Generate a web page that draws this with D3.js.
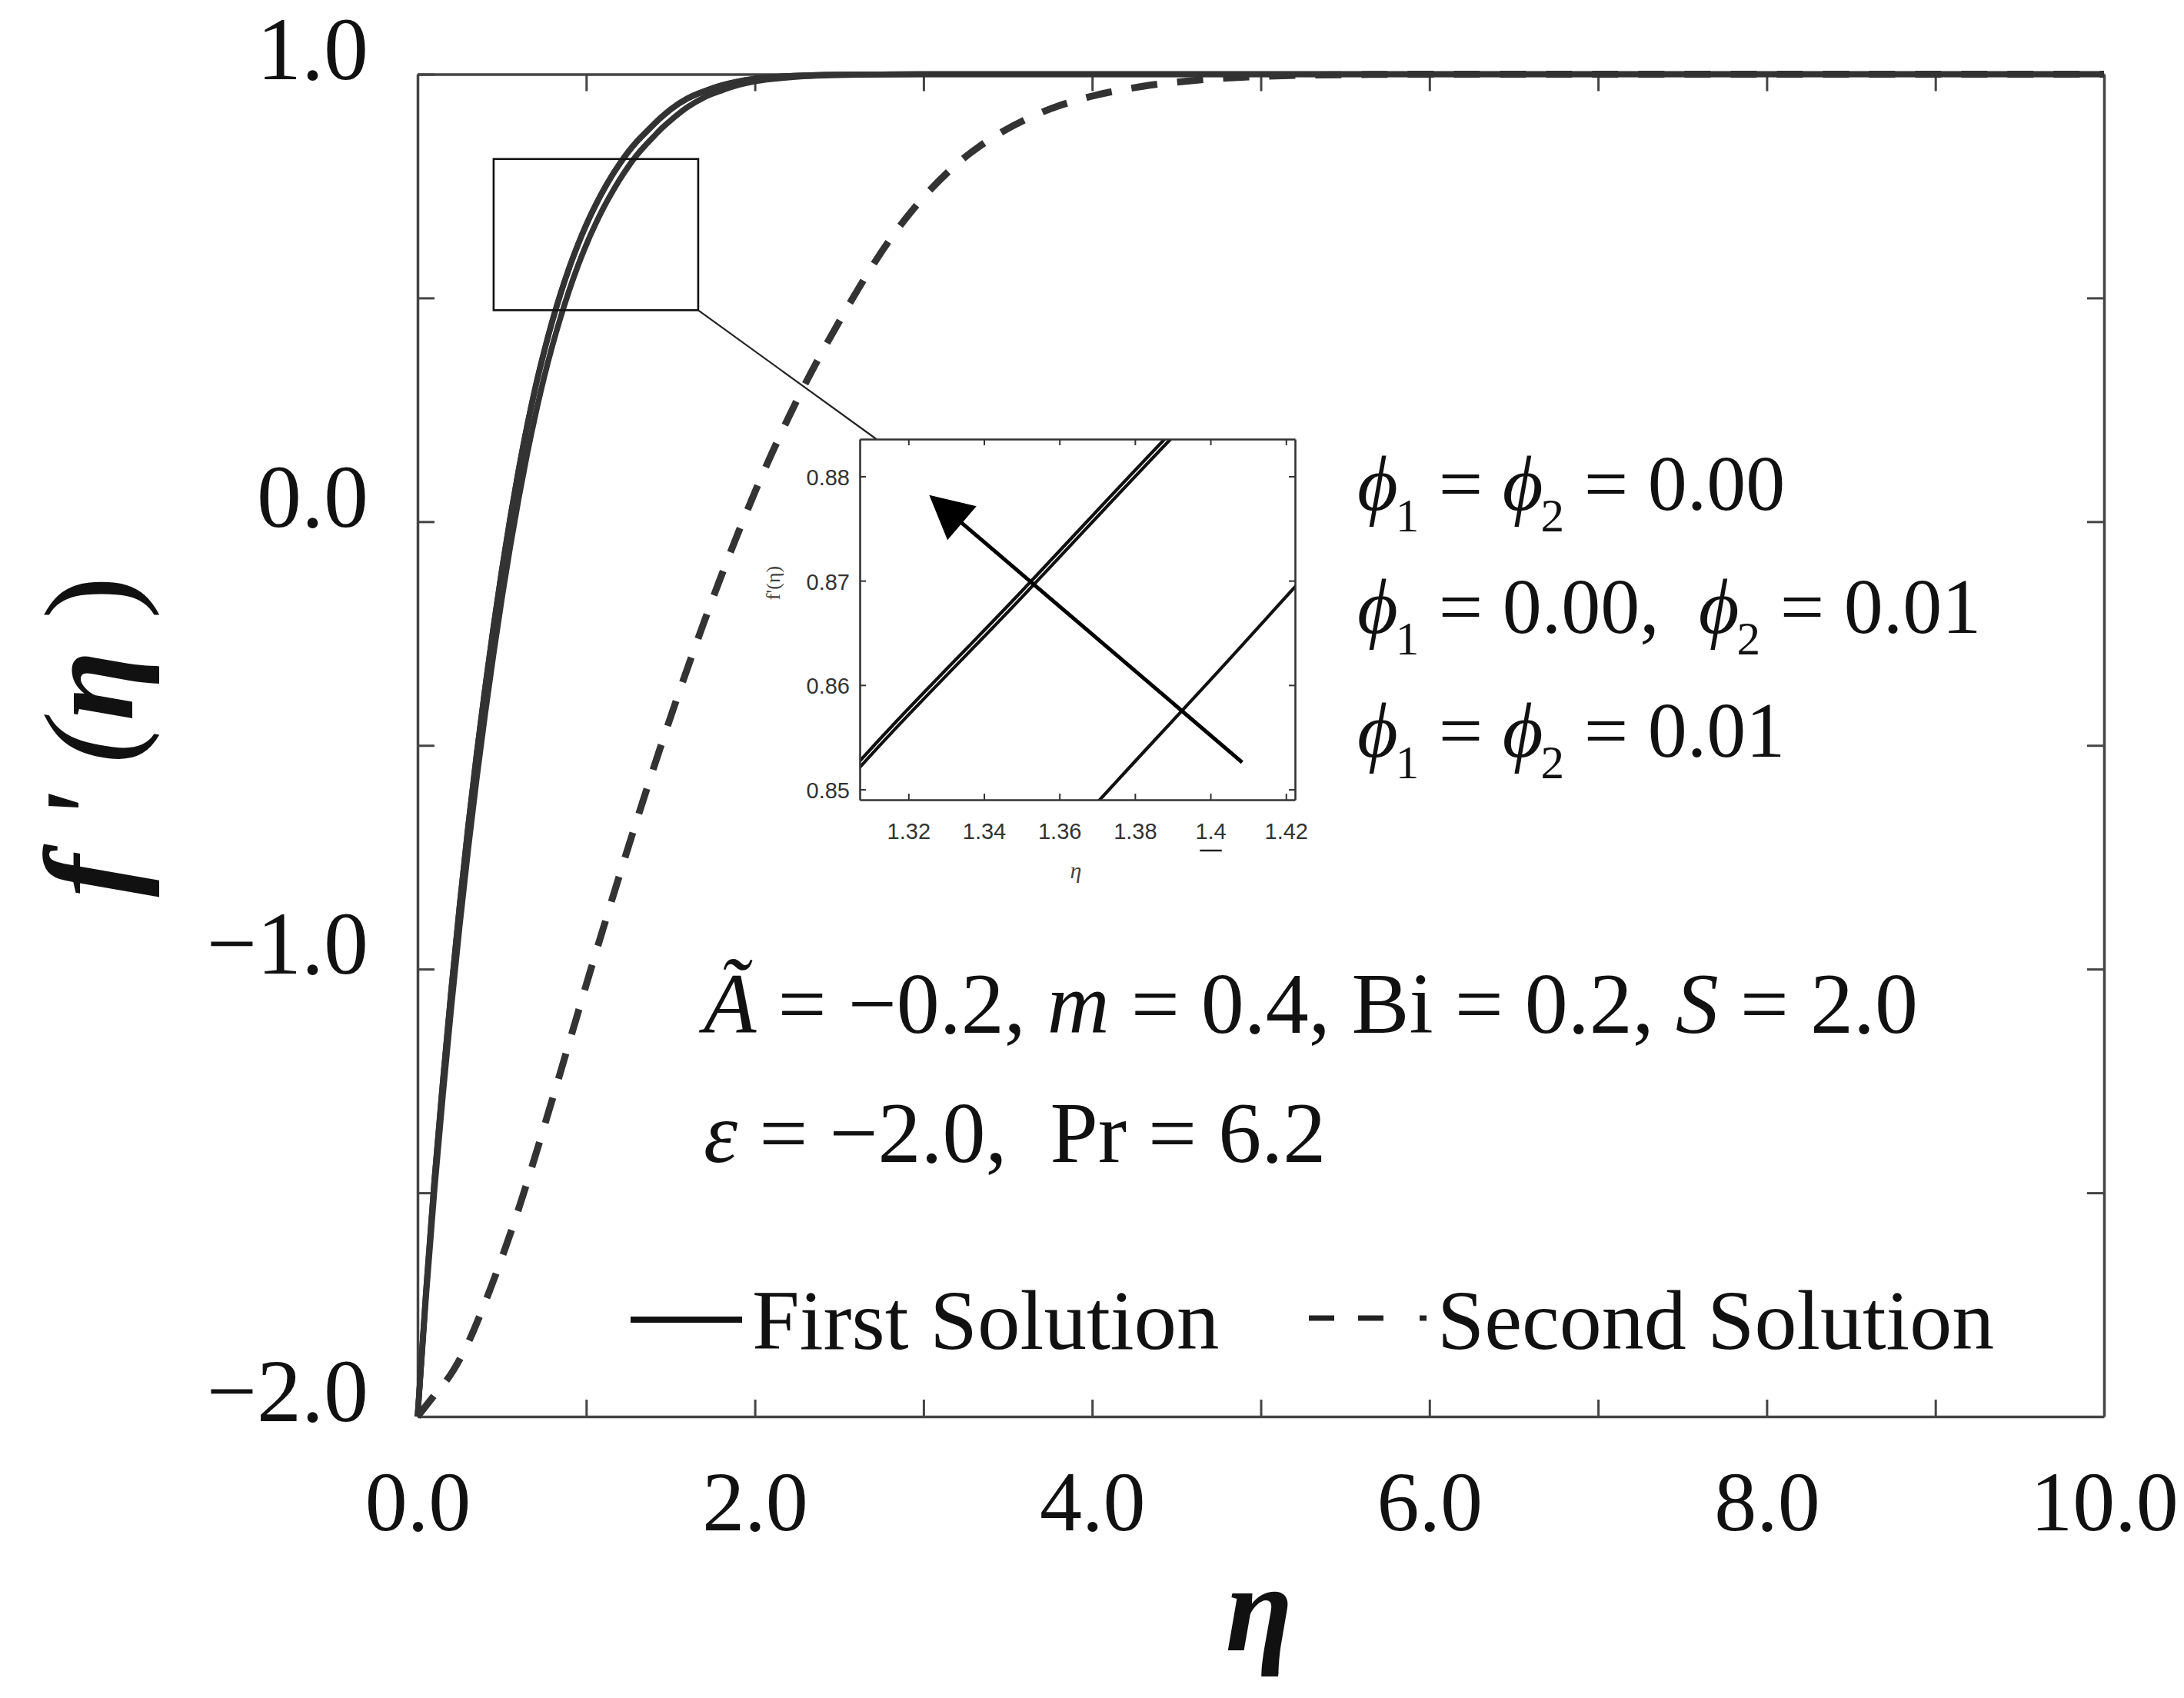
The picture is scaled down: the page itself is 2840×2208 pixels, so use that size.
<!DOCTYPE html>
<html><head><meta charset="utf-8">
<script src="https://cdn.jsdelivr.net/npm/d3@7"></script>
<style>
html,body{margin:0;padding:0;background:#fff;}
svg{display:block;}
text{white-space:pre;}
</style></head><body>
<svg id="chart" width="2840" height="2208"></svg>
<script>
// ---------- DATA ----------
const etaFirst = [0,0.05,0.10,0.15,0.20,0.25,0.30,0.35,0.40,0.45,0.50,0.55,0.60,0.65,0.70,0.75,0.80,0.85,0.90,0.95,1.00,1.05,1.10,1.15,1.20,1.25,1.30,1.35,1.40,1.45,1.50,1.60,1.70,1.80,1.90,2.00,2.20,2.50,3.00,4.00,6.00,8.00,10.0];
// phi1 = phi2 = 0.00
const fpPhi00 = [-2.000,-1.720,-1.470,-1.250,-1.045,-0.855,-0.680,-0.520,-0.3725,-0.235,-0.1075,0.010,0.1175,0.215,0.3025,0.380,0.450,0.5125,0.5685,0.6185,0.6635,0.7035,0.7395,0.772,0.801,0.827,0.8498,0.8690,0.8881,0.9056,0.9215,0.946,0.962,0.975,0.984,0.990,0.996,0.999,1.000,1.000,1.000,1.000,1.000];
// phi1 = 0.00, phi2 = 0.01
const fpPhi0001 = [-2.000,-1.721,-1.471,-1.251,-1.046,-0.856,-0.681,-0.521,-0.3733,-0.2357,-0.1082,0.0093,0.1168,0.2143,0.3018,0.3794,0.4494,0.5119,0.5679,0.6179,0.6629,0.7029,0.7389,0.7714,0.8004,0.8264,0.8492,0.8684,0.8875,0.9050,0.9209,0.9455,0.9616,0.9747,0.9838,0.9898,0.9959,0.9990,1.000,1.000,1.000,1.000,1.000];
// phi1 = phi2 = 0.01
const fpPhi0101 = [-2.000,-1.734,-1.495,-1.283,-1.086,-0.9025,-0.7325,-0.576,-0.4315,-0.297,-0.171,-0.0546,0.053,0.1516,0.241,0.322,0.394,0.459,0.518,0.571,0.6185,0.661,0.6995,0.734,0.7655,0.7938,0.8192,0.8407,0.8605,0.8800,0.8966,0.9262,0.9484,0.9633,0.9755,0.984,0.9927,0.9977,0.9998,1.000,1.000,1.000,1.000];
// second solution
const etaSecond = [0,0.10,0.20,0.30,0.40,0.50,0.60,0.70,0.80,0.90,1.00,1.10,1.20,1.30,1.40,1.50,1.60,1.70,1.80,1.90,2.00,2.10,2.20,2.30,2.40,2.50,2.60,2.80,3.00,3.20,3.40,3.60,3.80,4.00,4.30,4.60,5.00,5.50,6.00,7.00,8.00,10.0];
const fpSecond = [-2.000,-1.952,-1.904,-1.835,-1.745,-1.645,-1.535,-1.415,-1.290,-1.163,-1.035,-0.910,-0.787,-0.667,-0.550,-0.437,-0.328,-0.223,-0.122,-0.026,0.066,0.152,0.233,0.309,0.380,0.447,0.512,0.630,0.725,0.800,0.856,0.898,0.929,0.951,0.973,0.986,0.995,0.999,1.000,1.000,1.000,1.000];

const xTicks = [0,1,2,3,4,5,6,7,8,9,10];
const xLabelTicks = [0,2,4,6,8,10];
const yTicks = [-2,-1.5,-1,-0.5,0,0.5,1];
const yLabelTicks = [-2,-1,0,1];
const insetXTicks = [1.32,1.34,1.36,1.38,1.40,1.42];
const insetXLabels = ["1.32","1.34","1.36","1.38","1.4","1.42"];
const insetYTicks = [0.85,0.86,0.87,0.88];
const insetYLabels = ["0.85","0.86","0.87","0.88"];
const legendLabels = ["First Solution","Second Solution"];

// ---------- SETUP ----------
const svg = d3.select("#chart");
const SERIF = "'Liberation Serif','Times New Roman',serif";
const SANS = "'Liberation Sans',Arial,sans-serif";
const AX = "#444";
const LINE = "#333";

const L = 543, R = 2736, T = 96.5, B = 1842;
const x = d3.scaleLinear().domain([0,10]).range([L,R]);
const y = d3.scaleLinear().domain([-2,1]).range([B,T]);

svg.append("rect").attr("width",2840).attr("height",2208).attr("fill","#fff");

// ---------- AXES ----------
const fmt = d3.format(".1f");
const gB = svg.append("g").attr("transform",`translate(0,${B})`)
  .call(d3.axisBottom(x).tickValues(xTicks).tickSizeInner(-22).tickSizeOuter(0).tickPadding(70)
    .tickFormat(d => xLabelTicks.includes(d) ? fmt(d) : ""));
const gT = svg.append("g").attr("transform",`translate(0,${T})`)
  .call(d3.axisTop(x).tickValues(xTicks).tickSizeInner(-22).tickSizeOuter(0).tickFormat(""));
const gLft = svg.append("g").attr("transform",`translate(${L},0)`)
  .call(d3.axisLeft(y).tickValues(yTicks).tickSizeInner(-22).tickSizeOuter(0).tickPadding(64)
    .tickFormat(d => yLabelTicks.includes(d) ? fmt(d) : ""));
const gRt = svg.append("g").attr("transform",`translate(${R},0)`)
  .call(d3.axisRight(y).tickValues(yTicks).tickSizeInner(-22).tickSizeOuter(0).tickFormat(""));
[gB,gT,gLft,gRt].forEach(g=>{
  g.select(".domain").attr("stroke",AX).attr("stroke-width",3.5);
  g.selectAll(".tick line").attr("stroke",AX).attr("stroke-width",3);
  g.selectAll(".tick text").attr("font-family",SERIF).attr("font-size",110).attr("fill","#111");
});
gLft.selectAll(".tick text").attr("font-size",116).attr("dy","0.05em");

// ---------- CURVES ----------
const line = d3.line().x(d=>x(d[0])).y(d=>y(d[1])).curve(d3.curveMonotoneX);
const firstSeries = [fpPhi00, fpPhi0001, fpPhi0101].map(arr => etaFirst.map((e,i)=>[e,arr[i]]));
const secondSeries = etaSecond.map((e,i)=>[e,fpSecond[i]]);

svg.append("path").datum(secondSeries).attr("d",line).attr("fill","none")
  .attr("stroke",LINE).attr("stroke-width",9).attr("stroke-dasharray","34,26");
firstSeries.forEach(s=>{
  svg.append("path").datum(s).attr("d",line).attr("fill","none")
    .attr("stroke",LINE).attr("stroke-width",7.5);
});

// zoom box on main plot
const box = {x0:0.451, x1:1.664, y0:0.4726, y1:0.8105};
svg.append("rect").attr("x",x(box.x0)).attr("y",y(box.y1))
  .attr("width",x(box.x1)-x(box.x0)).attr("height",y(box.y0)-y(box.y1))
  .attr("fill","none").attr("stroke","#111").attr("stroke-width",2.6);

// ---------- INSET ----------
const iL=1118, iR=1684, iT=571, iB=1040;
const ix = d3.scaleLinear().domain([1.3071,1.4224]).range([iL,iR]);
const iy = d3.scaleLinear().domain([0.84901,0.88357]).range([iB,iT]);

// connector
svg.append("line").attr("x1",x(box.x1)).attr("y1",y(box.y0))
  .attr("x2",ix(1.3115)).attr("y2",iy(0.88357))
  .attr("stroke","#222").attr("stroke-width",2.2);

svg.append("rect").attr("x",iL).attr("y",iT).attr("width",iR-iL).attr("height",iB-iT).attr("fill","#fff");
svg.append("defs").append("clipPath").attr("id","iclip")
  .append("rect").attr("x",iL).attr("y",iT).attr("width",iR-iL).attr("height",iB-iT);

const iline = d3.line().x(d=>ix(d[0])).y(d=>iy(d[1])).curve(d3.curveMonotoneX);
const gInCurves = svg.append("g").attr("clip-path","url(#iclip)");
firstSeries.forEach(s=>{
  gInCurves.append("path").datum(s.filter(d=>d[0]>=1.2 && d[0]<=1.55)).attr("d",iline)
    .attr("fill","none").attr("stroke","#111").attr("stroke-width",4.2);
});

// inset axes
const ib = svg.append("g").attr("transform",`translate(0,${iB})`)
  .call(d3.axisBottom(ix).tickValues(insetXTicks).tickSizeInner(-8).tickSizeOuter(0).tickPadding(30)
    .tickFormat((d,i)=>insetXLabels[i]));
const it = svg.append("g").attr("transform",`translate(0,${iT})`)
  .call(d3.axisTop(ix).tickValues(insetXTicks).tickSizeInner(-8).tickSizeOuter(0).tickFormat(""));
const il = svg.append("g").attr("transform",`translate(${iL},0)`)
  .call(d3.axisLeft(iy).tickValues(insetYTicks).tickSizeInner(-8).tickSizeOuter(0).tickPadding(13)
    .tickFormat((d,i)=>insetYLabels[i]));
const ir = svg.append("g").attr("transform",`translate(${iR},0)`)
  .call(d3.axisRight(iy).tickValues(insetYTicks).tickSizeInner(-8).tickSizeOuter(0).tickFormat(""));
[ib,it,il,ir].forEach(g=>{
  g.select(".domain").attr("stroke","#333").attr("stroke-width",2.6);
  g.selectAll(".tick line").attr("stroke","#333").attr("stroke-width",2);
  g.selectAll(".tick text").attr("font-family",SANS).attr("font-size",29).attr("fill","#333");
});
il.selectAll(".tick text").attr("dy","0.38em");
// small underline mark under "1.4"
svg.append("line").attr("x1",ix(1.3972)).attr("x2",ix(1.4030)).attr("y1",iB+66).attr("y2",iB+66)
  .attr("stroke","#222").attr("stroke-width",2.5);

svg.append("text").attr("x",(iL+iR)/2 - 2).attr("y",iB+102).attr("text-anchor","middle")
  .attr("font-family",SERIF).attr("font-style","italic").attr("font-size",30).attr("fill","#444").text("η");
svg.append("text").attr("transform",`translate(1014,758) rotate(-90)`).attr("text-anchor","middle")
  .attr("font-family",SERIF).attr("font-size",26).attr("fill","#444").text("f'(η)");

// arrow
const arrowTail = [1.4084,0.8526], arrowTip = [1.3255,0.8782];
const ax0 = ix(arrowTail[0]), ay0 = iy(arrowTail[1]), ax1 = ix(arrowTip[0]), ay1 = iy(arrowTip[1]);
const ang = Math.atan2(ay1-ay0, ax1-ax0);
const headLen = 56, headW = 29;
const bx = ax1 - headLen*Math.cos(ang), by = ay1 - headLen*Math.sin(ang);
svg.append("line").attr("x1",ax0).attr("y1",ay0).attr("x2",bx+6*Math.cos(ang)).attr("y2",by+6*Math.sin(ang))
  .attr("stroke","#000").attr("stroke-width",5);
svg.append("path").attr("d",`M${ax1},${ay1} L${bx+headW*Math.sin(ang)},${by-headW*Math.cos(ang)} L${bx-headW*Math.sin(ang)},${by+headW*Math.cos(ang)} Z`)
  .attr("fill","#000");

// ---------- ANNOTATIONS ----------
function richText(xp, yp, size, segs){
  const t = svg.append("text").attr("x",xp).attr("y",yp).attr("font-family",SERIF)
    .attr("font-size",size).attr("fill","#111");
  segs.forEach(s=>{
    const sp = t.append("tspan").text(s.t);
    if (s.i) sp.attr("font-style","italic");
    if (s.b) sp.attr("font-weight","bold");
    if (s.sub){ sp.attr("font-size",size*0.6).attr("dy",size*0.27).attr("dx",-size*0.03); }
    if (s.up){ sp.attr("dy",-size*0.27); }
  });
  return t;
}
const phiSize = 102;
richText(1765, 663, phiSize, [{t:"ϕ",i:1},{t:"1",sub:1},{t:" = ",up:1},{t:"ϕ",i:1},{t:"2",sub:1},{t:" = 0.00",up:1}]);
richText(1765, 823, phiSize, [{t:"ϕ",i:1},{t:"1",sub:1},{t:" = 0.00,  ",up:1},{t:"ϕ",i:1},{t:"2",sub:1},{t:" = 0.01",up:1}]);
richText(1765, 984, phiSize, [{t:"ϕ",i:1},{t:"1",sub:1},{t:" = ",up:1},{t:"ϕ",i:1},{t:"2",sub:1},{t:" = 0.01",up:1}]);

richText(915, 1343, 112, [{t:"Ã",i:1},{t:" = −0.2, "},{t:"m",i:1},{t:" = 0.4, Bi = 0.2, "},{t:"S",i:1},{t:" = 2.0"}]);
richText(915, 1511, 112, [{t:"ε",i:1},{t:" = −2.0,  Pr = 6.2"}]);

// ---------- LEGEND ----------
svg.append("line").attr("x1",820).attr("x2",965).attr("y1",1716).attr("y2",1716)
  .attr("stroke","#111").attr("stroke-width",8);
svg.append("text").attr("x",978).attr("y",1754).attr("font-family",SERIF).attr("font-size",111)
  .attr("fill","#111").text(legendLabels[0]);
svg.append("line").attr("x1",1702).attr("x2",1858).attr("y1",1714).attr("y2",1714)
  .attr("stroke","#222").attr("stroke-width",7).attr("stroke-dasharray","33,31,33,47,9,40");
svg.append("text").attr("x",1869).attr("y",1754).attr("font-family",SERIF).attr("font-size",110)
  .attr("fill","#111").text(legendLabels[1]);

// ---------- AXIS TITLES ----------
svg.append("text").attr("x",(L+R)/2 - 2).attr("y",2146).attr("text-anchor","middle")
  .attr("font-family",SERIF).attr("font-style","italic").attr("font-weight","bold")
  .attr("font-size",160).attr("fill","#111").text("η");
const yl = svg.append("text").attr("transform","translate(172,958) rotate(-90)").attr("text-anchor","middle")
  .attr("font-family",SERIF).attr("font-size",166).attr("fill","#111");
yl.append("tspan").attr("font-style","italic").attr("font-weight","bold").text("f");
yl.append("tspan").attr("font-style","italic").text(" ' (");
yl.append("tspan").attr("font-style","italic").attr("font-weight","bold").text("η");
yl.append("tspan").text(" )");
</script>
</body></html>
